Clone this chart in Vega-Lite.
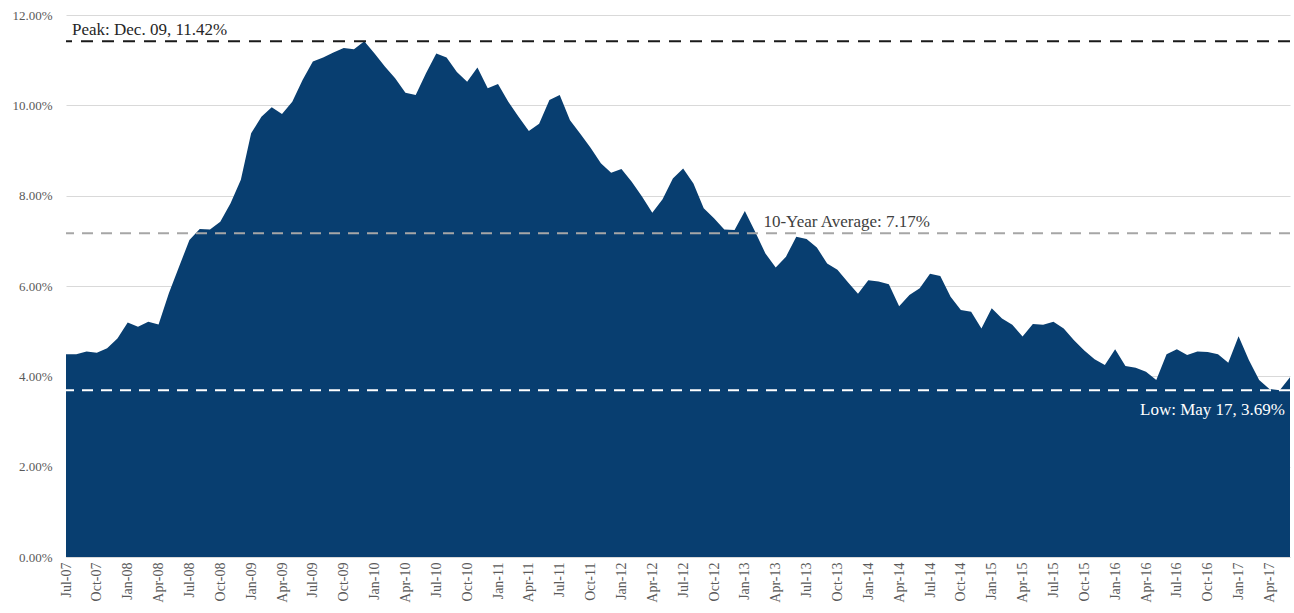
{
  "$schema": "https://vega.github.io/schema/vega-lite/v6.json",
  "width": 1224,
  "height": 542,
  "autosize": {"type": "none"},
  "padding": {"left": 66, "top": 15, "right": 4, "bottom": 56},
  "background": "white",
  "config": {"view": {"stroke": null}, "font": "'Liberation Serif', 'DejaVu Serif', serif"},
  "data": {"values": [
    {"m":"Jul-07","v":4.49},{"m":"Aug-07","v":4.49},{"m":"Sep-07","v":4.55},{"m":"Oct-07","v":4.52},{"m":"Nov-07","v":4.62},{"m":"Dec-07","v":4.84},
    {"m":"Jan-08","v":5.19},{"m":"Feb-08","v":5.10},{"m":"Mar-08","v":5.21},{"m":"Apr-08","v":5.15},{"m":"May-08","v":5.84},{"m":"Jun-08","v":6.43},
    {"m":"Jul-08","v":7.02},{"m":"Aug-08","v":7.26},{"m":"Sep-08","v":7.25},{"m":"Oct-08","v":7.42},{"m":"Nov-08","v":7.83},{"m":"Dec-08","v":8.35},
    {"m":"Jan-09","v":9.38},{"m":"Feb-09","v":9.75},{"m":"Mar-09","v":9.96},{"m":"Apr-09","v":9.81},{"m":"May-09","v":10.08},{"m":"Jun-09","v":10.56},
    {"m":"Jul-09","v":10.97},{"m":"Aug-09","v":11.06},{"m":"Sep-09","v":11.17},{"m":"Oct-09","v":11.27},{"m":"Nov-09","v":11.24},{"m":"Dec-09","v":11.42},
    {"m":"Jan-10","v":11.15},{"m":"Feb-10","v":10.86},{"m":"Mar-10","v":10.60},{"m":"Apr-10","v":10.28},{"m":"May-10","v":10.23},{"m":"Jun-10","v":10.71},
    {"m":"Jul-10","v":11.15},{"m":"Aug-10","v":11.06},{"m":"Sep-10","v":10.74},{"m":"Oct-10","v":10.52},{"m":"Nov-10","v":10.84},{"m":"Dec-10","v":10.38},
    {"m":"Jan-11","v":10.47},{"m":"Feb-11","v":10.08},{"m":"Mar-11","v":9.75},{"m":"Apr-11","v":9.43},{"m":"May-11","v":9.59},{"m":"Jun-11","v":10.12},
    {"m":"Jul-11","v":10.23},{"m":"Aug-11","v":9.67},{"m":"Sep-11","v":9.37},{"m":"Oct-11","v":9.06},{"m":"Nov-11","v":8.72},{"m":"Dec-11","v":8.51},
    {"m":"Jan-12","v":8.59},{"m":"Feb-12","v":8.31},{"m":"Mar-12","v":7.98},{"m":"Apr-12","v":7.62},{"m":"May-12","v":7.92},{"m":"Jun-12","v":8.38},
    {"m":"Jul-12","v":8.60},{"m":"Aug-12","v":8.27},{"m":"Sep-12","v":7.72},{"m":"Oct-12","v":7.50},{"m":"Nov-12","v":7.25},{"m":"Dec-12","v":7.24},
    {"m":"Jan-13","v":7.66},{"m":"Feb-13","v":7.20},{"m":"Mar-13","v":6.72},{"m":"Apr-13","v":6.41},{"m":"May-13","v":6.65},{"m":"Jun-13","v":7.09},
    {"m":"Jul-13","v":7.04},{"m":"Aug-13","v":6.85},{"m":"Sep-13","v":6.50},{"m":"Oct-13","v":6.36},{"m":"Nov-13","v":6.09},{"m":"Dec-13","v":5.83},
    {"m":"Jan-14","v":6.13},{"m":"Feb-14","v":6.10},{"m":"Mar-14","v":6.04},{"m":"Apr-14","v":5.55},{"m":"May-14","v":5.80},{"m":"Jun-14","v":5.95},
    {"m":"Jul-14","v":6.27},{"m":"Aug-14","v":6.22},{"m":"Sep-14","v":5.76},{"m":"Oct-14","v":5.47},{"m":"Nov-14","v":5.43},{"m":"Dec-14","v":5.06},
    {"m":"Jan-15","v":5.51},{"m":"Feb-15","v":5.28},{"m":"Mar-15","v":5.14},{"m":"Apr-15","v":4.88},{"m":"May-15","v":5.16},{"m":"Jun-15","v":5.14},
    {"m":"Jul-15","v":5.21},{"m":"Aug-15","v":5.06},{"m":"Sep-15","v":4.80},{"m":"Oct-15","v":4.57},{"m":"Nov-15","v":4.38},{"m":"Dec-15","v":4.25},
    {"m":"Jan-16","v":4.60},{"m":"Feb-16","v":4.23},{"m":"Mar-16","v":4.19},{"m":"Apr-16","v":4.10},{"m":"May-16","v":3.92},{"m":"Jun-16","v":4.49},
    {"m":"Jul-16","v":4.60},{"m":"Aug-16","v":4.47},{"m":"Sep-16","v":4.55},{"m":"Oct-16","v":4.54},{"m":"Nov-16","v":4.49},{"m":"Dec-16","v":4.30},
    {"m":"Jan-17","v":4.89},{"m":"Feb-17","v":4.36},{"m":"Mar-17","v":3.92},{"m":"Apr-17","v":3.72},{"m":"May-17","v":3.69},{"m":"Jun-17","v":3.98}
  ]},
  "layer": [
    {
      "mark": {"type": "area", "color": "#083E70", "opacity": 1},
      "encoding": {
        "x": {
          "field": "m", "type": "ordinal", "sort": null,
          "scale": {"type": "point", "padding": 0},
          "axis": {
            "title": null,
            "values": ["Jul-07","Oct-07","Jan-08","Apr-08","Jul-08","Oct-08","Jan-09","Apr-09","Jul-09","Oct-09","Jan-10","Apr-10","Jul-10","Oct-10","Jan-11","Apr-11","Jul-11","Oct-11","Jan-12","Apr-12","Jul-12","Oct-12","Jan-13","Apr-13","Jul-13","Oct-13","Jan-14","Apr-14","Jul-14","Oct-14","Jan-15","Apr-15","Jul-15","Oct-15","Jan-16","Apr-16","Jul-16","Oct-16","Jan-17","Apr-17"],
            "labelAngle": -90,
            "labelFont": "'Liberation Serif', 'DejaVu Serif', serif",
            "labelFontSize": 14,
            "labelColor": "#595959",
            "labelPadding": 5,
            "ticks": false,
            "tickSize": 0,
            "domain": true,
            "domainColor": "#d9d9d9",
            "grid": false
          }
        },
        "y": {
          "field": "v", "type": "quantitative",
          "scale": {"domain": [0, 12], "nice": false},
          "axis": {
            "title": null,
            "values": [0, 2, 4, 6, 8, 10, 12],
            "labelExpr": "format(datum.value, '.2f') + '%'",
            "labelFont": "'Liberation Serif', 'DejaVu Serif', serif",
            "labelFontSize": 13,
            "labelColor": "#595959",
            "labelPadding": 14,
            "ticks": false,
            "tickSize": 0,
            "domain": false,
            "grid": true,
            "gridColor": "#d9d9d9",
            "gridWidth": 1
          }
        }
      }
    },
    {
      "data": {"values": [{}]},
      "mark": {"type": "rule", "color": "#1a1a1a", "strokeWidth": 2, "strokeDash": [12, 9]},
      "encoding": {"y": {"datum": 11.42, "type": "quantitative"}}
    },
    {
      "data": {"values": [{}]},
      "mark": {"type": "rule", "color": "#a6a6a6", "strokeWidth": 2, "strokeDash": [11, 8]},
      "encoding": {"y": {"datum": 7.17, "type": "quantitative"}}
    },
    {
      "data": {"values": [{}]},
      "mark": {"type": "rule", "color": "#ffffff", "strokeWidth": 2, "strokeDash": [11, 8]},
      "encoding": {"y": {"datum": 3.69, "type": "quantitative"}}
    },
    {
      "transform": [{"filter": "datum.m == 'Jul-07'"}],
      "mark": {"type": "text", "align": "left", "baseline": "alphabetic", "dx": 6, "dy": -6, "font": "'Liberation Serif', 'DejaVu Serif', serif", "fontSize": 17, "color": "#262626"},
      "encoding": {"x": {"field": "m", "type": "ordinal", "sort": null}, "y": {"datum": 11.42, "type": "quantitative"}, "text": {"value": "Peak: Dec. 09, 11.42%"}}
    },
    {
      "transform": [{"filter": "datum.m == 'Mar-13'"}],
      "mark": {"type": "text", "align": "left", "baseline": "alphabetic", "dx": -2, "dy": -6, "font": "'Liberation Serif', 'DejaVu Serif', serif", "fontSize": 17, "color": "#404040"},
      "encoding": {"x": {"field": "m", "type": "ordinal", "sort": null}, "y": {"datum": 7.17, "type": "quantitative"}, "text": {"value": "10-Year Average: 7.17%"}}
    },
    {
      "transform": [{"filter": "datum.m == 'Jun-17'"}],
      "mark": {"type": "text", "align": "right", "baseline": "alphabetic", "dx": -5, "dy": 25, "font": "'Liberation Serif', 'DejaVu Serif', serif", "fontSize": 17, "color": "#ffffff"},
      "encoding": {"x": {"field": "m", "type": "ordinal", "sort": null}, "y": {"datum": 3.69, "type": "quantitative"}, "text": {"value": "Low: May 17, 3.69%"}}
    }
  ]
}
